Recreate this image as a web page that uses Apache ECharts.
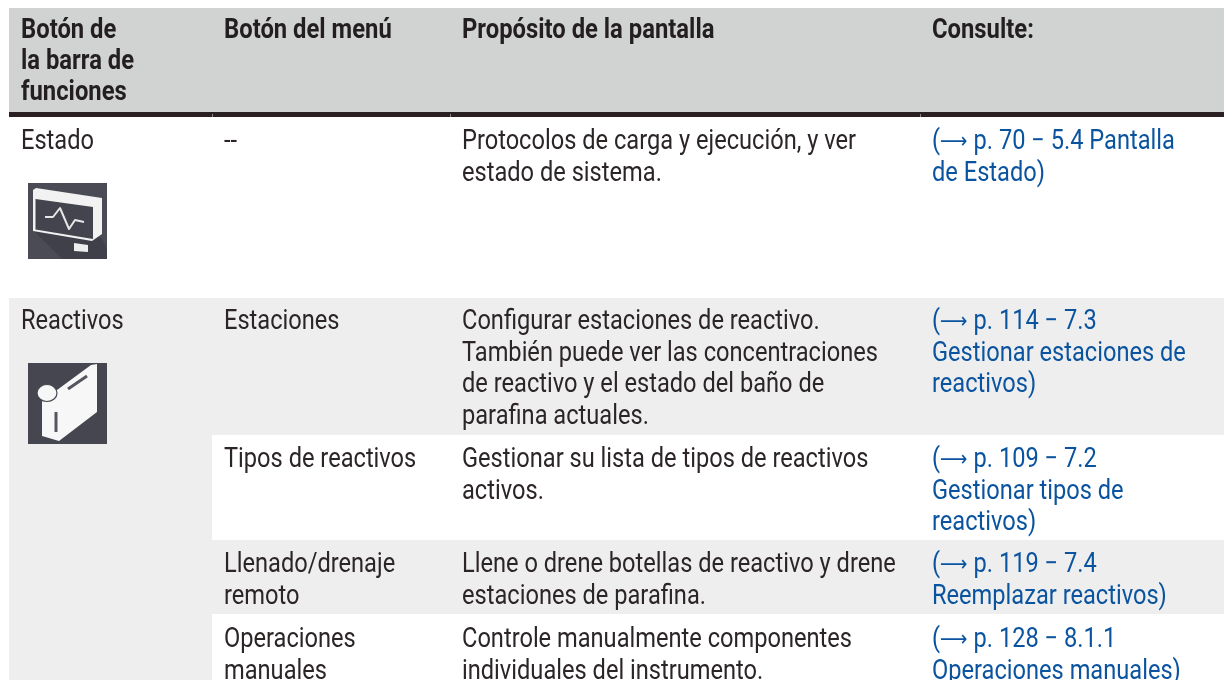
<!DOCTYPE html>
<html><head><meta charset="utf-8">
<style>html,body{margin:0;padding:0;background:#fff}#c{width:1224px;height:680px}</style>
<script src="https://cdn.jsdelivr.net/npm/echarts@6/dist/echarts.min.js"></script>
</head><body><div id="c"></div>
<script>
// ---- content ----
const headers = [["Botón de","la barra de","funciones"],["Botón del menú"],["Propósito de la pantalla"],["Consulte:"]];
const buttons = [["Estado"],["Reactivos"]];
const menus = [["--"],["Estaciones"],["Tipos de reactivos"],["Llenado/drenaje","remoto"],["Operaciones","manuales"]];
const purposes = [
 ["Protocolos de carga y ejecución, y ver","estado de sistema."],
 ["Configurar estaciones de reactivo.","También puede ver las concentraciones","de reactivo y el estado del baño de","parafina actuales."],
 ["Gestionar su lista de tipos de reactivos","activos."],
 ["Llene o drene botellas de reactivo y drene","estaciones de parafina."],
 ["Controle manualmente componentes","individuales del instrumento."]];
const links = [
 ["(⟶ p. 70 − 5.4 Pantalla","de Estado)"],
 ["(⟶ p. 114 − 7.3","Gestionar estaciones de","reactivos)"],
 ["(⟶ p. 109 − 7.2","Gestionar tipos de","reactivos)"],
 ["(⟶ p. 119 − 7.4","Reemplazar reactivos)"],
 ["(⟶ p. 128 − 8.1.1","Operaciones manuales)"]];
// ---- layout ----
const colX = [21,224,462,932];
const rowY = [142,322,460,565,640];
const headY = 31, lineH = 31.8;
const BODY='#2b2526', HEAD='#231f20', LINK='#0a539f';
const FS=27, SX=0.875, SXB=0.882;
const cells = [ // x0,x1,y0,y1,fill
 [9,1224,8,112,'#d1d3d2'],
 [9,1224,112,117,'#2a2021'],
 [9,1224,298,680,'#eeeeee'],
 [212,1224,435,540,'#ffffff'],
 [212,1224,614,680,'#ffffff'],
 [212,213,114,117,'#8a8586'],
 [450,451,114,117,'#8a8586'],
 [920,921,114,117,'#8a8586']
];
const texts=[];
function add(lines,x,y,color,bold,lh){lines.forEach((t,i)=>texts.push({t,x,y:y+i*(lh||lineH),color,bold}));}
headers.forEach((h,i)=>add(h,colX[i],headY,HEAD,true,31));
add(buttons[0],colX[0],rowY[0],BODY); add(buttons[1],colX[0],rowY[1],BODY);
menus.forEach((m,i)=>add(m,colX[1],rowY[i],BODY));
purposes.forEach((m,i)=>add(m,colX[2],rowY[i],BODY));
links.forEach((m,i)=>add(m,colX[3],rowY[i],LINK));

const poly=(points,fill,extra)=>Object.assign({type:'polygon',shape:{points},style:{fill}},extra||{});
const line=(points,stroke,w)=>({type:'polyline',shape:{points},style:{stroke,lineWidth:w,fill:null,lineJoin:'round'}});
const icons=[
 {type:'rect',shape:{x:28,y:183,width:79,height:76},style:{fill:'#4a4b55'}},
 poly([[33,230],[102,238],[107,250],[107,259],[62,259]],'#3f4049'),
 poly([[33,190],[36,188],[102,198],[102,234],[92,241],[33,231]],'#f2f2f2'),
 poly([[35.5,199],[93,207],[93,239],[35.5,229.5]],'#43444e'),
 poly([[74,243],[88,245],[88,252],[74,251]],'#eeeeee'),
 line([[45,217],[53,217],[60,208],[69,229],[75,220],[84,222]],'#e6e6e6',2),
 {type:'rect',shape:{x:28,y:363,width:79,height:81},style:{fill:'#45464f'}},
 poly([[91,365],[97,364],[97,412],[59,441],[42,436],[42,398],[57,390]],'#f7f7f7'),
 {type:'ellipse',shape:{cx:47,cy:393,rx:10,ry:8.5},style:{fill:'#f7f7f7',stroke:'#45464f',lineWidth:1.2}},
 line([[68,389],[87,376]],'#55565f',3),
 line([[56,412],[56,432]],'#55565f',3)
];

const chart=echarts.init(document.getElementById('c'),null,{renderer:'canvas'});
chart.setOption({
 animation:false,
 backgroundColor:'#ffffff',
 grid:{left:0,right:0,top:0,bottom:0},
 xAxis:{type:'value',min:0,max:1224,show:false},
 yAxis:{type:'value',min:0,max:680,inverse:true,show:false},
 graphic:{elements:icons.map(e=>Object.assign({z:10,silent:true},e))},
 series:[
  {type:'custom',coordinateSystem:'cartesian2d',silent:true,clip:false,z:1,
   data:cells.map(c=>c.slice(0,4)),
   renderItem:(p,api)=>{
    const a=api.coord([api.value(0),api.value(2)]),b=api.coord([api.value(1),api.value(3)]);
    return {type:'rect',shape:{x:a[0],y:a[1],width:b[0]-a[0],height:b[1]-a[1]},style:{fill:cells[p.dataIndex][4]}};
   }},
  {type:'custom',coordinateSystem:'cartesian2d',silent:true,clip:false,z:5,
   data:texts.map(t=>[t.x,t.y]),
   renderItem:(p,api)=>{
    const t=texts[p.dataIndex],a=api.coord([api.value(0),api.value(1)]);
    const font=(t.bold?'700 ':'400 ')+FS+'px Roboto';
    const hasArrow=t.t.indexOf('⟶')>=0;
    const style={x:0,y:0,fill:t.color,align:'left',verticalAlign:'middle',font};
    if(hasArrow){
      const parts=t.t.split('⟶');
      style.text='{a|'+parts[0]+'}{b|⟶}{a|'+parts[1]+'}';
      style.rich={a:{font,fill:t.color,lineHeight:32},b:{font:'400 22px "DejaVu Sans"',fill:t.color,lineHeight:32}};
    } else style.text=t.t;
    return {type:'text',x:a[0],y:a[1],scaleX:t.bold?SXB:SX,style};
   }}
 ]
});
</script></body></html>
